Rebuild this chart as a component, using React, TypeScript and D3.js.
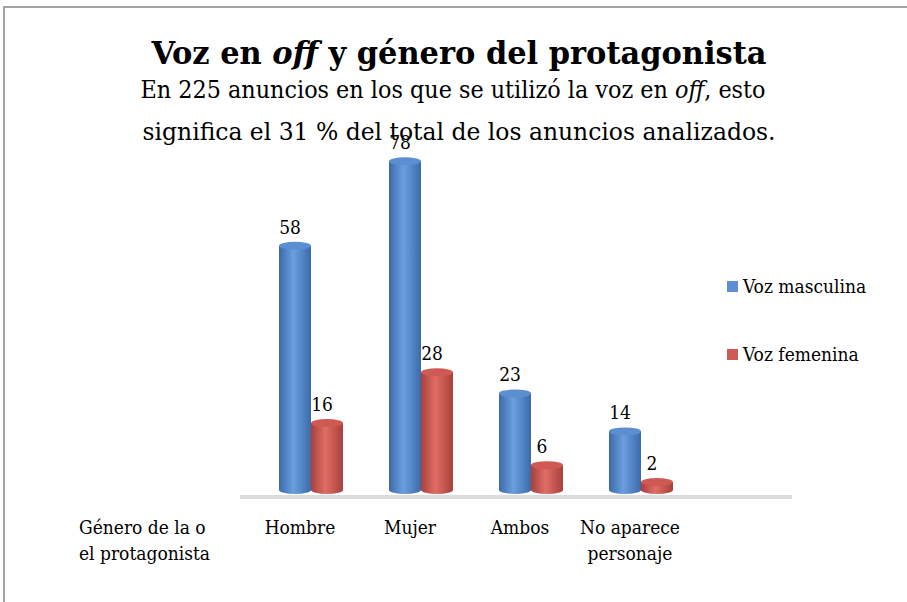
import React from "react";
import * as d3 from "d3";

const categories = ["Hombre", "Mujer", "Ambos", "No aparece personaje"];
const categoryLines = [["Hombre"], ["Mujer"], ["Ambos"], ["No aparece", "personaje"]];
const seriesNames = ["Voz masculina", "Voz femenina"];
const vozMasculina = [58, 78, 23, 14];
const vozFemenina = [16, 28, 6, 2];
const seriesColors = [
  { edge: "#3c6aa8", mid: "#6b9fe0", cap: "#5b8fd2" },
  { edge: "#a8403c", mid: "#e06d66", cap: "#cf5a54" },
];

const W = 907;
const H = 602;
const FONT = "DejaVu Serif Condensed, DejaVu Serif, serif";

export default function App() {
  const x = d3.scaleBand<string>().domain(categories).range([256, 696]).padding(0);
  const y = d3.scaleLinear().domain([0, 80]).range([486.5, 148.9]);
  const floor = 494;
  const barW = 32;
  const ry = 4;
  const series = [vozMasculina, vozFemenina];
  const ts = { fontFamily: FONT } as React.CSSProperties;

  return (
    <svg
      width={W}
      height={H}
      style={{ position: "absolute", left: 0, top: 0, background: "#fff", fontFamily: FONT }}
    >
      <defs>
        {seriesColors.map((c, i) => (
          <linearGradient key={i} id={`g${i}`} x1="0" x2="1" y1="0" y2="0">
            <stop offset="0" stopColor={c.edge} />
            <stop offset="0.45" stopColor={c.mid} />
            <stop offset="1" stopColor={c.edge} />
          </linearGradient>
        ))}
      </defs>
      <rect x={4} y={7} width={1000} height={1000} fill="#fff" stroke="#a3a3a3" strokeWidth={2} />

      {/* Title */}
      <text x={459} y={64} textAnchor="middle" fontSize={32} fontWeight="bold" fill="#000" style={ts}
        textLength={615} lengthAdjust="spacingAndGlyphs">
        Voz en <tspan fontStyle="italic">off</tspan> y género del protagonista
      </text>
      <text x={453} y={98} textAnchor="middle" fontSize={24} fill="#000" style={ts}
        textLength={625} lengthAdjust="spacingAndGlyphs">
        En 225 anuncios en los que se utilizó la voz en <tspan fontStyle="italic">off</tspan>, esto
      </text>
      <text x={459} y={140} textAnchor="middle" fontSize={24} fill="#000" style={ts}
        textLength={633} lengthAdjust="spacingAndGlyphs">
        significa el 31 % del total de los anuncios analizados.
      </text>

      {/* floor */}
      <rect x={240} y={495} width={552} height={4} fill="#dcdcdc" />

      {/* bars */}
      {categories.map((cat, ci) => {
        const cx = (x(cat) as number) + x.bandwidth() / 2;
        return series.map((vals, si) => {
          const v = vals[ci];
          const x0 = si === 0 ? cx - barW : cx;
          const top = y(v);
          const c = seriesColors[si];
          return (
            <g key={`${ci}-${si}`}>
              <ellipse cx={x0 + barW / 2} cy={floor - ry} rx={barW / 2} ry={ry} fill={`url(#g${si})`} />
              <rect x={x0} y={top + ry} width={barW} height={Math.max(0, floor - ry - top - ry)} fill={`url(#g${si})`} />
              <ellipse cx={x0 + barW / 2} cy={top + ry} rx={barW / 2} ry={ry} fill={c.cap} />
              <text x={x0 + barW / 2 - 5} y={top - 8} textAnchor="middle" fontSize={19} fill="#000" style={ts}>
                {v}
              </text>
            </g>
          );
        });
      })}

      {/* category labels */}
      {categories.map((cat, ci) => {
        const cx = (x(cat) as number) + x.bandwidth() / 2 - 11;
        return (
          <text key={cat} x={cx} y={534} textAnchor="middle" fontSize={19} fill="#000" style={ts}>
            {categoryLines[ci].map((l, li) => (
              <tspan key={li} x={cx} dy={li === 0 ? 0 : 26}>
                {l}
              </tspan>
            ))}
          </text>
        );
      })}

      {/* axis title */}
      <text x={79} y={534} fontSize={19} fill="#000" style={ts}>
        <tspan x={79} dy={0}>Género de la o</tspan>
        <tspan x={79} dy={26}>el protagonista</tspan>
      </text>

      {/* legend */}
      {seriesNames.map((n, i) => (
        <g key={n} transform={`translate(727, ${281 + i * 68})`}>
          <rect width={11} height={11} fill={seriesColors[i].cap} />
          <text x={16} y={12} fontSize={19} fill="#000" style={ts}>
            {n}
          </text>
        </g>
      ))}
    </svg>
  );
}
